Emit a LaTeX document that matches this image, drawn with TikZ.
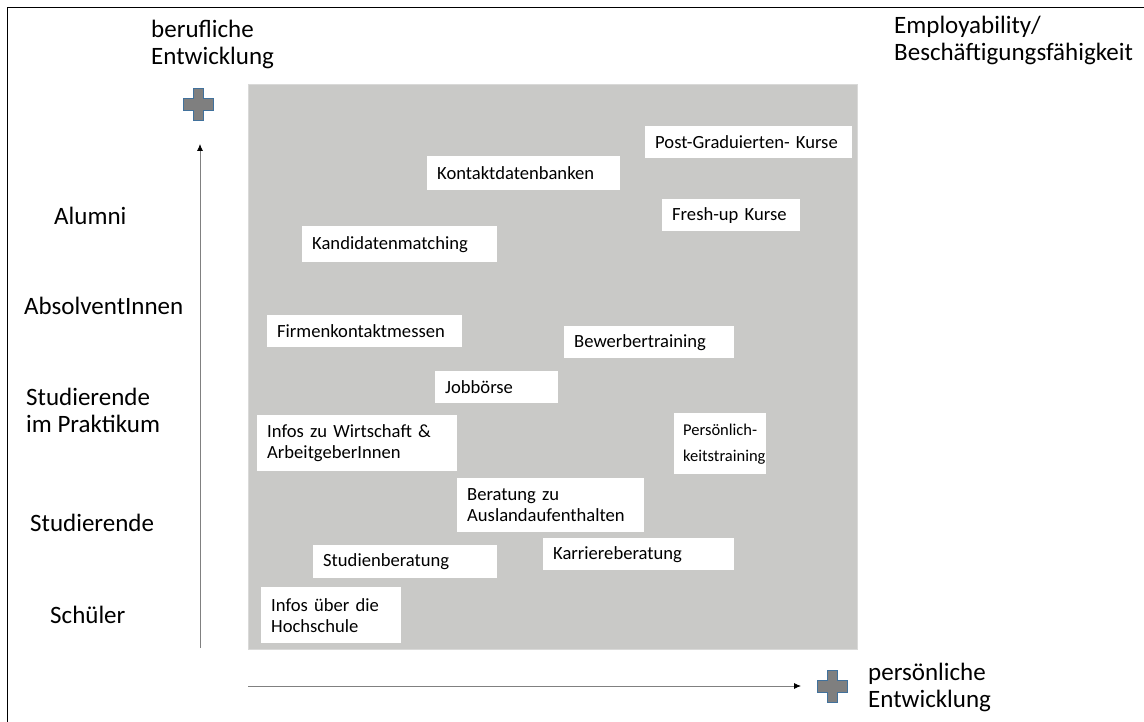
\documentclass[tikz,border=0pt]{standalone}
\usepackage{fontspec}
\setmainfont{Carlito}
\usetikzlibrary{arrows.meta}

\definecolor{feldgrau}{RGB}{201,201,199}
\definecolor{kreuzgrau}{RGB}{127,127,127}
\definecolor{kreuzblau}{RGB}{65,113,156}

\begin{document}
\begin{tikzpicture}[
      x=1pt, y=-1pt,
      feld/.style={
         fill=feldgrau,
         draw=feldgrau!70!white,
         anchor=north west,
         inner sep=0pt},
      angebot/.style={
         fill=white,
         anchor=north west,
         inner xsep=10pt,
         inner ysep=0pt,
         align=left,
         font=\fontsize{18.6}{21}\selectfont},
      stufe/.style={
         anchor=west,
         align=left,
         inner sep=0pt,
         font=\fontsize{25}{27}\selectfont},
      achse/.style={draw=gray, line width=0.8pt, -{Latex[length=7pt,width=6pt,color=black]}},
      kreuz/.pic={
         \filldraw[fill=kreuzgrau, draw=kreuzblau, line width=1pt]
            (-5,-16) -- (5,-16) -- (5,-6) -- (15,-6) -- (15,6) -- (5,6)
            -- (5,16) -- (-5,16) -- (-5,6) -- (-15,6) -- (-15,-6) -- (-5,-6) -- cycle;}
      ]
      \useasboundingbox (0,0) rectangle (1144,722);
      \draw[line width=1pt] (1144,8) -- (7,8) -- (7,722);

      % grey field
      \node[feld, minimum width=609pt, minimum height=565pt] (feld) at (248,84) {};

      % offers: x/y of upper left corner, width/height, name, text
      \foreach \x/\y/\w/\h/\n/\txt in {%
         645/126/207/32/postgrad/{Post-Graduierten- Kurse},
         427/156/193/34/kontakt/{Kontaktdatenbanken},
         662/199/138/32/freshup/{Fresh-up Kurse},
         302/226/195/36/kandidat/{Kandidatenmatching},
         267/315/195/32/firmen/{Firmenkontaktmessen},
         564/326/170/32/bewerber/{Bewerbertraining},
         435/371/123/32/jobs/{Jobbörse},
         257/415/200/56/wirtschaft/{Infos zu Wirtschaft \&\\ArbeitgeberInnen},
         457/478/187/54/ausland/{Beratung zu\\Auslandaufenthalten},
         543/538/191/32/karriere/{Karriereberatung},
         313/545/184/33/studien/{Studienberatung},
         261/587/140/56/hochschule/{Infos über die\\Hochschule}}
      {
         \pgfmathsetmacro\tw{\w-20}
         \node[angebot, text width=\tw pt, minimum height=\h pt] (\n) at (\x,\y) {\txt};
      }
      % narrow box, smaller type
      \node[angebot, text width=74pt, minimum height=61pt, inner xsep=9pt,
            font=\fontsize{16.5}{26}\selectfont] (persoenlich) at (674,413)
            {Persönlich-\\keitstraining};

      % groups on the left
      \node[stufe] (alumni) at (54,216) {Alumni};
      \node[stufe] (absolv) at (24,306) {AbsolventInnen};
      \node[stufe] (praktikum) at (26,410) {Studierende\\im Praktikum};
      \node[stufe] (studis) at (30,523) {Studierende};
      \node[stufe] (schueler) at (50,615) {Schüler};

      % axes
      \node[stufe] (beruf) at (151,44) {berufliche\\Entwicklung};
      \node[stufe] (employ) at (894,40) {Employability/\\Beschäftigungsfähigkeit};
      \node[stufe] (person) at (868,687) {persönliche\\Entwicklung};

      \coordinate (v0) at (200,648);
      \coordinate (v1) at (200,144);
      \coordinate (h0) at (248,686);
      \coordinate (h1) at (801,686);
      \draw[achse] (v0) -- (v1);
      \draw[achse] (h0) -- (h1);

      \pic at (198,105) {kreuz};
      \pic at (832,686) {kreuz};
    \end{tikzpicture}
\end{document}
